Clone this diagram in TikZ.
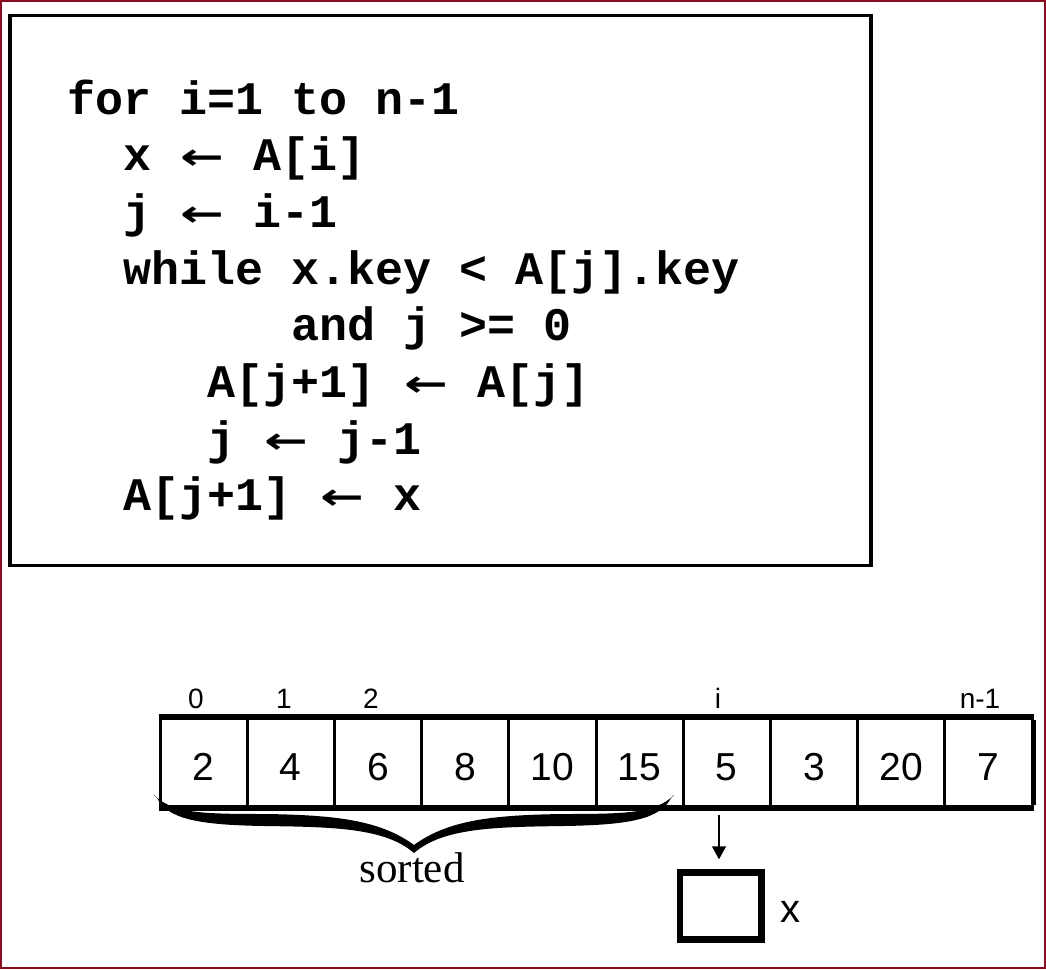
\documentclass[tikz,border=0pt]{standalone}
\usepackage{fontspec}
\usepackage{graphicx}
\setmainfont{Liberation Sans}
\newfontfamily\codefont{Liberation Mono}
\newfontfamily\timesfont{Liberation Serif}
\newfontfamily\arrowfont{DejaVu Sans}
\newcommand\larr{\makebox[46pt]{\raisebox{1pt}{\scalebox{1.12}[0.78]{\arrowfont\bfseries ←}}}}
\usetikzlibrary{decorations.pathreplacing,arrows.meta}
\definecolor{frame}{RGB}{140,12,36}
\begin{document}
\begin{tikzpicture}[x=1pt,y=-1pt,
  code/.style={anchor=base west,inner sep=0pt,font=\codefont\bfseries\fontsize{46.7}{56}\selectfont},
  cell/.style={draw,line width=3pt,minimum width=87.2pt,minimum height=88pt,inner sep=0pt,
     text height=35pt,text depth=0pt,font=\fontsize{39}{44}\selectfont},
  idx/.style={anchor=base,inner sep=0pt,font=\fontsize{28}{32}\selectfont},
  thick edge/.style={line width=6.5pt},
  xbox/.style={draw,line width=6.5pt,minimum width=81.5pt,minimum height=67pt,inner sep=0pt}]
\useasboundingbox (0,0) rectangle (1046,969);
\draw[frame,line width=2pt] (1,1) rectangle (1045,968);
% code box
\node[draw,line width=3.5pt,minimum width=861pt,minimum height=550pt,inner sep=0pt] (codebox) at (440.5,290.5) {};
\node[code] (l1) at (67,114) {for i=1 to n-1};
\node[code] (l2) at (123,170.7) {x \larr\ A[i]};
\node[code] (l3) at (123,227.4) {j \larr\ i-1};
\node[code] (l4) at (123,284) {while x.key < A[j].key};
\node[code] (l5) at (291,340.8) {and j >= 0};
\node[code] (l6) at (207,397.5) {A[j+1] \larr\ A[j]};
\node[code] (l7) at (207,454.2) {j \larr\ j-1};
\node[code] (l8) at (123,510.9) {A[j+1] \larr\ x};
% array
\foreach \v [count=\k from 0] in {2,4,6,8,10,15,5,3,20,7}
  \node[cell] (c\k) at ({160+87.2*(\k+0.5)},762.5) {\v};
\draw[thick edge] (c0.north west) -- (c9.north east);
\draw[thick edge] (c0.south west) -- (c9.south east);
\draw[line width=5pt] ([yshift=-3pt]c9.north east) -- ([yshift=3pt]c9.south east);
% indices
\node[idx] (i0) at (196,708) {0};
\node[idx] (i1) at (284,708) {1};
\node[idx] (i2) at (371,708) {2};
\node[idx] (ii) at (718,708) {i};
\node[idx] (in) at (980,708) {n-1};
% brace (filled, tapered)
\coordinate (bl) at (156,797);
\coordinate (br) at (672,797);
\coordinate (btip) at (414,852);
\fill (154,795) .. controls (172,813) and (200,814) .. (265,814)
   .. controls (335,815) and (380,820) .. (414,845)
   -- (414,853)
   .. controls (385,828) and (335,827) .. (265,826)
   .. controls (198,825) and (168,819) .. (157,798) -- cycle;
\begin{scope}[shift={(828,0)},xscale=-1]
\fill (154,795) .. controls (172,813) and (200,814) .. (265,814)
   .. controls (335,815) and (380,820) .. (414,845)
   -- (414,853)
   .. controls (385,828) and (335,827) .. (265,826)
   .. controls (198,825) and (168,819) .. (157,798) -- cycle;
\end{scope}
\node[anchor=base,inner sep=0pt,font=\timesfont\fontsize{43}{48}\selectfont] (sorted) at (412,882) {sorted};
% x box
\node[xbox] (xb) at (720.75,906) {};
\node[anchor=base,inner sep=0pt,font=\fontsize{40}{44}\selectfont] (xl) at (790,922.5) {x};
\coordinate (a1) at (719,815);
\draw[line width=1.5pt,shorten >=10pt,-{Triangle[length=13pt,width=14pt]}] (a1) -- (a1 |- xb.north);
\end{tikzpicture}
\end{document}
